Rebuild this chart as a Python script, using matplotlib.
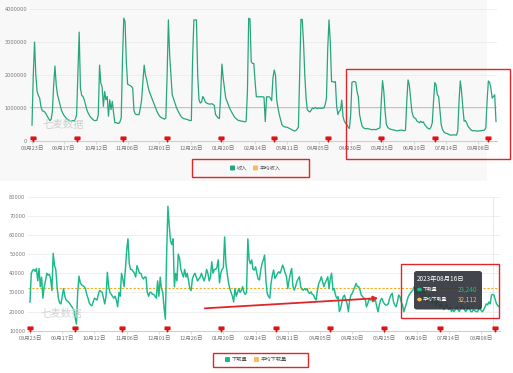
import matplotlib
matplotlib.use("Agg")
import matplotlib.pyplot as plt
import numpy as np
from matplotlib.patches import Rectangle, FancyBboxPatch, FancyArrowPatch
from matplotlib.path import Path
import matplotlib.transforms as mtrans

plt.rcParams['font.family'] = ['Noto Sans CJK SC', 'DejaVu Sans']

# ---------------- data ----------------
# daily revenue (unit: 10,000), 2022-08-23 .. 2023-08-22
revenue_10k = [
    48, 200, 300, 200, 150, 138, 130, 105, 92, 90,
    88, 82, 75, 68, 62, 65, 90, 170, 227, 170,
    140, 125, 110, 95, 85, 78, 73, 68, 65, 63,
    60, 60, 62, 60, 66, 80, 200, 330, 160, 138,
    135, 125, 110, 95, 85, 78, 72, 68, 64, 62,
    62, 63, 80, 230, 175, 165, 105, 150, 125, 135,
    75, 125, 95, 120, 85, 55, 56, 54, 53, 58,
    70, 250, 372, 362, 240, 172, 170, 168, 165, 160,
    92, 82, 80, 80, 80, 100, 125, 180, 230, 200,
    185, 165, 150, 140, 130, 120, 110, 100, 90, 82,
    76, 72, 70, 68, 66, 70, 200, 367, 260, 200,
    140, 128, 115, 105, 95, 88, 80, 74, 70, 68,
    67, 66, 65, 63, 62, 62, 250, 367, 367, 367,
    200, 125, 115, 118, 135, 128, 118, 115, 113, 112,
    112, 113, 111, 108, 80, 75, 70, 68, 140, 233,
    190, 160, 130, 120, 110, 100, 92, 85, 78, 72,
    68, 65, 62, 62, 60, 60, 59, 58, 60, 150,
    372, 370, 240, 235, 235, 180, 134, 134, 134, 134,
    134, 134, 133, 59, 134, 134, 134, 130, 122, 190,
    215, 200, 124, 100, 80, 65, 50, 45, 43, 42,
    42, 40, 38, 36, 34, 32, 30, 32, 36, 42,
    200, 369, 368, 300, 200, 130, 95, 90, 88, 93,
    100, 98, 102, 100, 98, 100, 99, 99, 100, 100,
    110, 130, 280, 367, 300, 180, 180, 178, 180, 105,
    80, 90, 94, 124, 74, 60, 54, 50, 42, 38,
    80, 178, 180, 180, 178, 150, 134, 80, 60, 45,
    40, 38, 37, 38, 37, 36, 35, 34, 35, 35,
    34, 37, 38, 40, 120, 183, 150, 90, 50, 42,
    38, 36, 35, 34, 33, 32, 31, 31, 32, 33,
    33, 32, 31, 33, 120, 185, 170, 130, 90, 75,
    70, 68, 60, 58, 55, 60, 56, 58, 50, 45,
    40, 38, 36, 42, 55, 120, 177, 170, 140, 135,
    95, 50, 35, 28, 25, 23, 22, 20, 18, 18,
    18, 19, 18, 18, 30, 120, 182, 150, 100, 60,
    62, 55, 45, 40, 35, 32, 31, 31, 31, 30,
    30, 31, 31, 32, 32, 33, 40, 120, 182, 178,
    160, 130, 135, 140, 59,
]
avg_revenue = 1030000

# daily downloads (unit: 1,000)
downloads_k = [
    25, 40, 41.5, 42, 41, 42.5, 36, 42.5, 33, 38,
    27, 33, 36, 40, 39, 39.5, 37, 31, 50.4, 44,
    42, 33, 27, 24.5, 24, 28, 32, 28, 26, 25.5,
    25, 24, 23, 22, 21, 17, 13.5, 30, 38.5, 35,
    34, 33.5, 33, 32, 29, 27, 24.5, 23.5, 23, 25,
    27, 26.5, 26, 29, 31, 30.5, 30, 27, 24, 28,
    40.5, 33, 30, 29, 28, 27, 28, 26, 22.5, 30,
    28, 40, 37, 33, 42, 52, 58, 45, 42, 42,
    41, 40, 38, 44, 42, 40, 40, 38, 37, 38,
    38, 30, 28, 30, 30, 29, 29, 28, 27, 36,
    28, 38, 32, 30, 22, 16, 50, 75, 65, 57,
    55, 58, 33, 40, 36, 50, 48, 42, 40, 38,
    42, 38, 40, 36, 32, 31, 37, 39, 40, 38,
    36, 37, 38, 40, 38, 36, 38, 42, 40, 36,
    38, 46, 40, 42, 42, 43, 47, 35, 40, 42,
    43, 59, 45, 40, 35, 32, 30, 28, 25, 32,
    28, 30, 32, 30, 31, 33, 30, 29, 30, 58,
    47, 45, 47, 42, 41.7, 43.4, 40, 37, 36.5, 41.7,
    45, 47, 49.5, 36.5, 29.5, 28, 27, 34.7, 39, 41.7,
    37.3, 38.5, 40, 40.8, 40, 42, 44.3, 42.5, 40, 38.2,
    32, 36.5, 40, 42.5, 33, 31.2, 33, 35.6, 37, 38.2,
    33, 31.5, 31.2, 32, 31.2, 32, 30, 29.5, 30.3, 29,
    28.6, 26.9, 26, 31.2, 34.7, 36, 38.2, 35.6, 33, 35,
    36.5, 38.2, 32, 37.3, 40, 31.2, 32, 28.6, 26.9, 27.8,
    20, 21.6, 25, 27.8, 28.6, 26, 24.2, 19.9, 26, 28.6,
    29.5, 31.2, 33, 34.7, 33, 33, 31.2, 28.6, 27.8, 27,
    26.9, 22.5, 24, 26.9, 26, 26.9, 25.1, 25.5, 26, 22.5,
    19.9, 23.4, 26, 26.9, 25.1, 24, 23.4, 23.4, 24.2, 27,
    28.6, 29.5, 25.1, 23.4, 22.5, 25, 28.6, 27.8, 25, 23.4,
    19.9, 22, 24.2, 26.9, 28.6, 29.5, 30.5, 31.2, 33, 31,
    29, 30, 32, 28, 26, 30, 31, 28, 25, 27,
    29, 26, 24, 27, 25, 23, 26, 24, 22, 24,
    23, 21, 22, 24, 22, 21, 22.5, 20, 21, 19.9,
    21, 22.5, 21, 20, 21.5, 23, 22, 21, 20, 21,
    22.5, 21.5, 20, 19.9, 21, 20.5, 20, 19.9, 21, 22,
    20.5, 19.9, 21, 22.5, 24, 23.5, 25, 24, 28.6, 29,
    28.6, 26, 24, 23, 22.5,
]
avg_downloads = 32112

x_labels = ['08月23日', '09月17日', '10月12日', '11月06日', '12月01日', '12月26日',
            '01月20日', '02月14日', '03月11日', '04月05日', '04月30日', '05月25日',
            '06月19日', '07月14日', '08月08日']
label_step = 25

flags_top = [1, 35, 71, 106, 148, 190, 232, 274, 316, 358]
flags_bottom = [0, 35, 71, 106, 148, 191, 233, 275, 318, 361]

rev_yticks = [0, 1000000, 2000000, 3000000, 4000000]
dl_yticks = [10000, 20000, 30000, 40000, 50000, 60000, 70000, 80000]

legend_top = ['收入', '平均收入']
legend_bottom = ['下载量', '平均下载量']
tooltip_date = '2023年08月16日'
tooltip_dl = '23,240'
tooltip_avg = '32,112'
watermark = '七麦数据'

# ---------------- style ----------------
W, H = 513, 373
GREEN_TOP = '#27a67d'
GREEN_BOT = '#1cba8b'
ORANGE = '#f6bd5a'
ORANGE_D = '#f5ad1e'
RED = '#e0262b'
GRID = '#ececec'
AXIS = '#cfcfcf'
TXT = '#777777'

def fx(px):
    return px / W

def fy(py):
    return 1 - py / H

fig = plt.figure(figsize=(W / 100, H / 100), dpi=100)
fig.patch.set_facecolor('white')
fig.add_artist(Rectangle((0, fy(181)), fx(487), 181 / H, transform=fig.transFigure,
                         facecolor='#f8f8f8', edgecolor='none', zorder=-5))

rev = np.array(revenue_10k) * 10000
dl = np.array(downloads_k) * 1000
days = np.arange(len(rev))
days_dl = np.arange(len(dl))

flag_path = Path([(-1, 1), (1, 1), (1, 0.0), (0.25, 0.0), (0, -1), (-0.25, 0.0), (-1, 0.0), (-1, 1)],
                 [Path.MOVETO] + [Path.LINETO] * 6 + [Path.CLOSEPOLY])


def style_axes(ax, yticks, ylabels, x0_px, ppd, left_px, right_px):
    ax.set_facecolor('none')
    for s in ['top', 'right', 'left']:
        ax.spines[s].set_visible(False)
    ax.spines['bottom'].set_color(AXIS)
    ax.spines['bottom'].set_linewidth(0.8)
    ax.set_xlim((left_px - x0_px) / ppd, (right_px - x0_px) / ppd)
    ax.set_yticks(yticks)
    ax.set_yticklabels(ylabels, fontsize=3.6, color=TXT, family='DejaVu Sans')
    ax.tick_params(axis='y', length=0, pad=2)
    for yt in yticks[1:]:
        ax.axhline(yt, color=GRID, lw=0.6, zorder=0)
    ticks = [i * label_step for i in range(len(x_labels))]
    ax.set_xticks(ticks)
    ax.set_xticklabels(x_labels, fontsize=4.0, color=TXT)
    ax.tick_params(axis='x', length=2, width=0.5, color=AXIS, pad=1.5)


# ---------------- top chart ----------------
axt = fig.add_axes([fx(30), fy(141), fx(467), 132 / H])
style_axes(axt, rev_yticks, [str(v) for v in rev_yticks], 32, 1.2747, 30, 497)
axt.set_ylim(0, 4000000)
axt.plot(days, rev, color=GREEN_TOP, lw=0.9, zorder=3)
axt.axhline(avg_revenue, color=ORANGE, lw=0.7, zorder=2)
trt = mtrans.blended_transform_factory(axt.transData, axt.transAxes)
axt.plot(flags_top, [0.015] * len(flags_top), ls='none', marker=flag_path, ms=3.4,
         color='#e01010', transform=trt, clip_on=False, zorder=5)
fig.text(fx(42), fy(125), watermark, fontsize=7.5, color='#cfcfcf', va='center', ha='left')

# ---------------- bottom chart ----------------
axb = fig.add_axes([fx(28), fy(330.7), fx(472), 134 / H])
style_axes(axb, dl_yticks, [str(v) for v in dl_yticks], 30, 1.289, 28, 500)
axb.set_ylim(10000, 80000)
axb.axvline(359, color='#e4e4e4', lw=0.6, zorder=1)
axb.plot(days_dl, dl, color=GREEN_BOT, lw=1.05, zorder=3)
axb.axhline(avg_downloads, color=ORANGE_D, lw=0.8, ls=(0, (2, 1.5)), zorder=2)
trb = mtrans.blended_transform_factory(axb.transData, axb.transAxes)
axb.plot(flags_bottom, [0.015] * len(flags_bottom), ls='none', marker=flag_path, ms=3.4,
         color='#e01010', transform=trb, clip_on=False, zorder=5)
fig.text(fx(40), fy(314), watermark, fontsize=7.5, color='#d2d2d2', va='center', ha='left')

# ---------------- legends ----------------
def legend(items, colors, xs, y):
    for (lab, col, x) in zip(items, colors, xs):
        fig.add_artist(FancyBboxPatch((fx(x), fy(y + 2.5)), fx(5), 5 / H,
                                      boxstyle='round,pad=0,rounding_size=0.002',
                                      transform=fig.transFigure, facecolor=col,
                                      edgecolor='none'))
        fig.text(fx(x + 7), fy(y), lab, fontsize=3.8, color='#555555', va='center', ha='left')

legend(legend_top, [GREEN_TOP, ORANGE], [230, 253], 168)
legend(legend_bottom, [GREEN_BOT, ORANGE], [225, 254], 359.5)

def red_box(x0, y0, x1, y1):
    fig.add_artist(Rectangle((fx(x0), fy(y1)), fx(x1 - x0), (y1 - y0) / H,
                             transform=fig.transFigure, facecolor='none',
                             edgecolor=RED, lw=1.0, zorder=10))

red_box(192, 159, 309, 177)
red_box(213, 353, 308, 367)
red_box(346, 69, 510, 159)
red_box(401, 264, 499, 318)

# ---------------- tooltip ----------------
fig.add_artist(FancyBboxPatch((fx(414), fy(309.5)), fx(68), 38.5 / H,
                              boxstyle='round,pad=0,rounding_size=0.006',
                              transform=fig.transFigure, facecolor='#32353b',
                              edgecolor='none', alpha=0.92, zorder=8))
fig.text(fx(417), fy(278.5), tooltip_date, fontsize=4.6, color='white', va='center',
         ha='left', zorder=9)
fig.add_artist(plt.Circle((fx(419.5), fy(289.5)), 1.6 / W, transform=fig.transFigure,
                          color=GREEN_BOT, zorder=9))
fig.add_artist(plt.Circle((fx(419.5), fy(299.5)), 1.6 / W, transform=fig.transFigure,
                          color=ORANGE, zorder=9))
fig.text(fx(423), fy(289.5), legend_bottom[0], fontsize=3.5, color='white', va='center',
         ha='left', zorder=9)
fig.text(fx(423), fy(299.5), legend_bottom[1], fontsize=3.5, color='white', va='center',
         ha='left', zorder=9)
fig.text(fx(477), fy(289.5), tooltip_dl, fontsize=4.6, color=GREEN_BOT, va='center',
         ha='right', zorder=9)
fig.text(fx(477), fy(299.5), tooltip_avg, fontsize=4.6, color=ORANGE, va='center',
         ha='right', zorder=9)

# ---------------- arrow ----------------
fig.add_artist(FancyArrowPatch((fx(202), fy(308.5)), (fx(381), fy(298)),
                               transform=fig.transFigure, arrowstyle='-|>',
                               mutation_scale=7, color=RED, lw=1.3, zorder=10))

fig.savefig('out.png', dpi=100)
